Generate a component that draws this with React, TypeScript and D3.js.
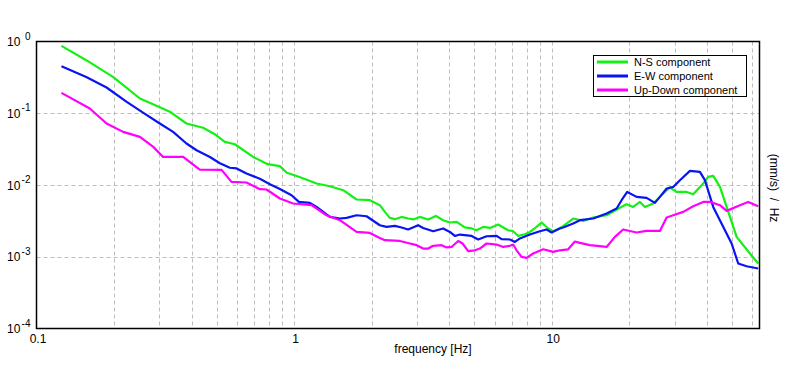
import React from "react";
import * as d3 from "d3";

// spectra (frequency in Hz, amplitude in (mm/s)/Hz)
const nsFreq = [0.125, 0.156, 0.198, 0.252, 0.301, 0.329, 0.382, 0.443, 0.492, 0.538, 0.589, 0.693, 0.79, 0.88, 0.937, 1.043, 1.222, 1.376, 1.55, 1.747, 1.967, 2.151, 2.25, 2.352, 2.46, 2.612, 2.77, 2.897, 3.076, 3.313, 3.549, 3.788, 4.022, 4.27, 4.599, 4.884, 5.106, 5.418, 5.751, 6.194, 6.477, 6.772, 7.083, 7.408, 7.862, 8.222, 8.73, 9.128, 9.683, 10.13, 10.75, 11.07, 12.11, 13.25, 14.48, 16.32, 17.85, 19.51, 20.7, 21.98, 22.98, 24.75, 27.07, 28.74, 30.51, 33.37, 35.39, 38.7, 40.47, 42.32, 44.95, 47.71, 52.17, 58.75, 63.26];
const nsValues = [0.868, 0.549, 0.321, 0.1606, 0.1214, 0.1051, 0.072, 0.0629, 0.051, 0.0399, 0.037, 0.0246, 0.0195, 0.0183, 0.01484, 0.01305, 0.0105, 0.00962, 0.00846, 0.00628, 0.00614, 0.00523, 0.00422, 0.00348, 0.00334, 0.00359, 0.00341, 0.00331, 0.00359, 0.00331, 0.00371, 0.00323, 0.003, 0.00306, 0.00256, 0.00248, 0.00234, 0.00261, 0.00252, 0.00281, 0.00256, 0.00234, 0.00227, 0.00195, 0.00206, 0.00222, 0.00261, 0.003, 0.00248, 0.00227, 0.00252, 0.00267, 0.00341, 0.00316, 0.00352, 0.00379, 0.00455, 0.0054, 0.00495, 0.00581, 0.00495, 0.00552, 0.00761, 0.00923, 0.00801, 0.00801, 0.00744, 0.0105, 0.01297, 0.01339, 0.0094, 0.00495, 0.00189, 0.00111, 0.000805];

const ewFreq = [0.125, 0.156, 0.187, 0.224, 0.259, 0.301, 0.339, 0.382, 0.418, 0.471, 0.515, 0.563, 0.598, 0.653, 0.736, 0.805, 0.88, 0.977, 1.043, 1.151, 1.222, 1.376, 1.505, 1.597, 1.747, 1.91, 2.151, 2.284, 2.46, 2.612, 2.77, 3.03, 3.168, 3.464, 3.788, 4.022, 4.206, 4.398, 4.884, 5.181, 5.585, 6.107, 6.385, 6.877, 7.193, 7.521, 8.222, 8.991, 9.546, 9.98, 10.75, 11.07, 12.11, 12.86, 14.48, 16.32, 17.85, 18.66, 19.62, 21.34, 23.33, 25.13, 26.28, 27.91, 29.6, 31.43, 34.37, 37.57, 39.29, 42.32, 46.99, 49.89, 52.92, 57.04, 63.26];
const ewValues = [0.4526, 0.321, 0.2285, 0.1439, 0.1018, 0.072, 0.055, 0.0379, 0.0305, 0.0246, 0.0201, 0.0174, 0.017, 0.01446, 0.01224, 0.01026, 0.0088, 0.00721, 0.00581, 0.00563, 0.00495, 0.00359, 0.00341, 0.00348, 0.00379, 0.00367, 0.00275, 0.00261, 0.00269, 0.00256, 0.0024, 0.00275, 0.00252, 0.00227, 0.00248, 0.00222, 0.00195, 0.00204, 0.00195, 0.00174, 0.00193, 0.00195, 0.00176, 0.00174, 0.00161, 0.0018, 0.00204, 0.00227, 0.0024, 0.00218, 0.00248, 0.00256, 0.0029, 0.00323, 0.00341, 0.004, 0.0047, 0.00614, 0.00801, 0.00683, 0.00661, 0.00563, 0.00683, 0.00894, 0.0094, 0.01167, 0.01572, 0.01523, 0.01167, 0.00495, 0.00234, 0.00153, 0.000805, 0.000738, 0.000686];

const udFreq = [0.125, 0.161, 0.187, 0.217, 0.252, 0.284, 0.31, 0.371, 0.43, 0.523, 0.571, 0.653, 0.736, 0.781, 0.88, 0.991, 1.168, 1.336, 1.505, 1.747, 1.967, 2.151, 2.25, 2.573, 2.813, 2.987, 3.168, 3.313, 3.464, 3.735, 3.905, 4.083, 4.331, 4.505, 4.737, 5.029, 5.26, 5.585, 6.107, 6.477, 6.877, 7.083, 7.301, 7.635, 7.985, 8.47, 9.262, 10.13, 10.75, 11.58, 12.29, 12.86, 14.06, 16.32, 17.58, 18.93, 21.34, 23.33, 26.28, 27.91, 29.6, 32.37, 35.39, 38.7, 41.09, 44.95, 47.71, 53.73, 57.86, 63.26];
const udValues = [0.1921, 0.1165, 0.072, 0.055, 0.0468, 0.034, 0.0246, 0.0246, 0.01633, 0.01623, 0.01104, 0.01083, 0.00874, 0.00866, 0.00648, 0.00552, 0.00523, 0.00379, 0.00323, 0.00222, 0.00215, 0.00183, 0.0017, 0.00166, 0.00153, 0.00145, 0.0013, 0.0013, 0.00142, 0.00145, 0.00135, 0.00137, 0.00166, 0.00153, 0.0012, 0.00123, 0.0013, 0.00153, 0.00148, 0.00137, 0.00142, 0.00148, 0.00123, 0.000995, 0.000964, 0.00111, 0.00127, 0.00117, 0.00123, 0.00127, 0.00163, 0.00156, 0.00145, 0.00137, 0.00189, 0.0024, 0.00218, 0.00229, 0.00229, 0.00352, 0.00379, 0.00422, 0.00506, 0.00581, 0.00581, 0.00523, 0.00436, 0.00523, 0.00581, 0.00506];

const seriesNames = ["N-S component", "E-W component", "Up-Down component"];
const seriesColors = ["#14f014", "#0a14f0", "#ff00ff"];

const xTickValues = [0.1, 1, 10];
const xTickLabels = ["0.1", "1", "10"];
const yTickValues = [1, 0.1, 0.01, 0.001, 0.0001];
const yTickExponents = ["0", "-1", "-2", "-3", "-4"];

const W = 796;
const H = 370;
const plot = { left: 36.5, right: 759.5, top: 41.5, bottom: 328.5 };

const x = d3.scaleLog().domain([0.1, 64]).range([plot.left, plot.right]);
const y = d3.scaleLog().domain([1e-4, 1]).range([plot.bottom, plot.top]);

// every 1..9 multiple inside the domain gets a dashed line
const minorX: number[] = [];
[0.1, 1, 10].forEach((dec) => {
  for (let m = 1; m <= 9; m++) {
    const v = dec * m;
    if (v > 0.1 && v < 64) minorX.push(v);
  }
});

const font = "'Liberation Sans', Arial, sans-serif";

export default function App() {
  const line = d3
    .line<[number, number]>()
    .x((d) => x(d[0]))
    .y((d) => y(d[1]));

  const series = [
    d3.zip(nsFreq, nsValues) as [number, number][],
    d3.zip(ewFreq, ewValues) as [number, number][],
    d3.zip(udFreq, udValues) as [number, number][],
  ];

  const clipId = "plot-clip";

  return (
    <svg
      width={W}
      height={H}
      style={{ position: "absolute", left: 0, top: 0, background: "#fff" }}
      fontFamily={font}
    >
      <defs>
        <clipPath id={clipId}>
          <rect
            x={plot.left}
            y={plot.top}
            width={plot.right - plot.left}
            height={plot.bottom - plot.top}
          />
        </clipPath>
      </defs>
      <rect width={W} height={H} fill="#fff" />

      {/* grid */}
      <g stroke="#bdbdbd" strokeDasharray="4,3" strokeWidth={1}>
        {minorX.map((v) => (
          <line
            key={"gx" + v}
            x1={Math.round(x(v)) + 0.5}
            x2={Math.round(x(v)) + 0.5}
            y1={plot.top}
            y2={plot.bottom}
          />
        ))}
        {yTickValues.slice(1, -1).map((v) => (
          <line
            key={"gy" + v}
            x1={plot.left}
            x2={plot.right}
            y1={Math.round(y(v)) + 0.5}
            y2={Math.round(y(v)) + 0.5}
          />
        ))}
      </g>

      {/* curves */}
      <g clipPath={`url(#${clipId})`} fill="none" strokeWidth={2.2} strokeLinejoin="round">
        {series.map((s, i) => (
          <path key={i} d={line(s) || ""} stroke={seriesColors[i]} />
        ))}
      </g>

      {/* frame */}
      <rect
        x={plot.left}
        y={plot.top}
        width={plot.right - plot.left}
        height={plot.bottom - plot.top}
        fill="none"
        stroke="#000"
        strokeWidth={1.5}
      />

      {/* y tick labels */}
      {yTickValues.map((v, i) => (
        <g key={"yt" + v} fill="#000">
          <text x={7} y={y(v) + 4.5} fontSize={12}>
            10
          </text>
          <text x={30.5} y={y(v) - 2} fontSize={10} textAnchor="end">
            {yTickExponents[i]}
          </text>
        </g>
      ))}

      {/* x tick labels */}
      {xTickValues.map((v, i) => (
        <text
          key={"xt" + v}
          x={x(v) + 1.5}
          y={343}
          fontSize={12}
          textAnchor="middle"
          fill="#000"
        >
          {xTickLabels[i]}
        </text>
      ))}

      <text x={433} y={353} fontSize={12} textAnchor="middle" fill="#000">
        frequency [Hz]
      </text>

      <text
        transform="translate(770,188) rotate(90)"
        fontSize={12}
        textAnchor="middle"
        fill="#000"
        style={{ whiteSpace: "pre" }}
      >
        {"(mm/s)  /  Hz"}
      </text>

      {/* legend */}
      <g>
        <rect x={593.5} y={55.5} width={153} height={41} fill="#fff" stroke="#000" strokeWidth={1} />
        {seriesNames.map((name, i) => (
          <g key={name} transform={`translate(0, ${62 + i * 14})`}>
            <line x1={597} x2={628} y1={0} y2={0} stroke={seriesColors[i]} strokeWidth={3} />
            <text x={634} y={4} fontSize={11} fill="#000">
              {name}
            </text>
          </g>
        ))}
      </g>
    </svg>
  );
}
